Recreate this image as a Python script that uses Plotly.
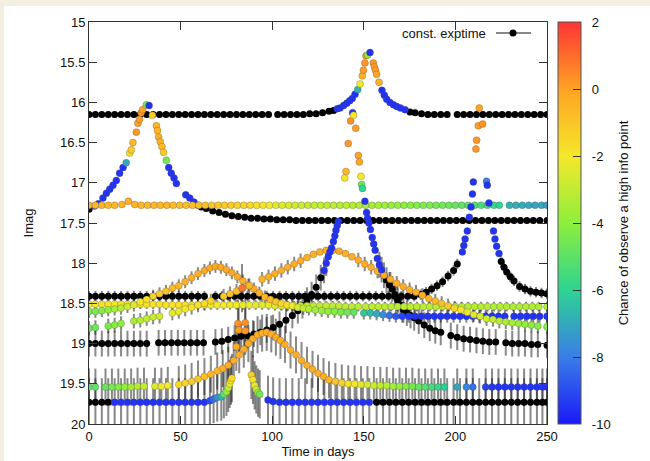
import plotly.graph_objects as go

FONT = "Liberation Sans, Arial, Helvetica, sans-serif"

# ---------------- data ----------------
x_ticks = [0, 50, 100, 150, 200, 250]
x_labels = ["0", "50", "100", "150", "200", "250"]
y_ticks = [15, 15.5, 16, 16.5, 17, 17.5, 18, 18.5, 19, 19.5, 20]
y_labels = ["15", "15.5", "16", "16.5", "17", "17.5", "18", "18.5", "19", "19.5", "20"]
cb_ticks = [-10, -8, -6, -4, -2, 0, 2]
cb_labels = ["-10", "-8", "-6", "-4", "-2", "0", "2"]

# curve A: baseline 16.15, peak near day 152
a_bt = [0, 3.5, 7, 10.5, 14, 17.5, 21, 24.5, 28, 31.5, 35, 38.5, 42, 45.5, 49, 52.5, 56, 59.5, 63, 66.5,
        70, 73.5, 77, 80.5, 84, 87.5, 91, 94.5, 98, 103, 106.5, 110, 113.5, 117, 120.5, 124, 127.5, 131, 133.5,
        175.2, 178, 181.5, 185, 188.5, 192, 195.5, 201, 204.5, 208, 211.5, 215, 218.5, 222, 225.5, 229, 232.5,
        236, 239.5, 243, 246.5, 250]
a_bm = [16.15, 16.15, 16.15, 16.15, 16.15, 16.15, 16.15, 16.15, 16.15, 16.15, 16.15, 16.15, 16.15, 16.15,
        16.15, 16.15, 16.15, 16.15, 16.15, 16.15, 16.15, 16.15, 16.15, 16.15, 16.15, 16.15, 16.15, 16.15, 16.15,
        16.15, 16.15, 16.15, 16.15, 16.15, 16.14, 16.14, 16.13, 16.11, 16.10,
        16.12, 16.13, 16.14, 16.15, 16.15, 16.15, 16.15, 16.15, 16.15, 16.15, 16.15, 16.15, 16.15, 16.15, 16.15,
        16.15, 16.15, 16.15, 16.15, 16.15, 16.15, 16.15]
a_ct = [135.5, 137, 139, 140.7, 142.3, 143.7, 145.2, 146.7, 148, 149.2, 149.8, 150.6, 151.2, 152.1, 153.4,
        155.2, 155.8, 156.4, 157, 158.3, 159.9, 161.2, 162.5, 164.3, 166.2, 168, 170, 172.5]
a_cm = [16.08, 16.07, 16.04, 16.01, 15.98, 15.95, 15.9, 15.84, 15.77, 15.67, 15.6, 15.51, 15.42, 15.41, 15.38,
        15.51, 15.56, 15.6, 15.65, 15.75, 15.85, 15.91, 15.96, 16.0, 16.03, 16.05, 16.07, 16.09]
a_cc = [-9.5, -9.5, -9.5, -9.5, -9.5, -9.5, -9.5, -6.8, -2.0, -0.4, 0.1, 0.2, 0.3, -4.0, -9.5,
        0.2, 0.1, 0.1, -0.1, -0.4, -9.5, -9.5, -9.5, -9.5, -9.5, -9.5, -9.5, -9.5]

# curve B: baseline 17.47, peak near day 32
b_bt = [0, 61.3, 64, 67.5, 71, 74.5, 78, 81.5, 85, 88.5, 92, 95.5, 99, 102.5, 106, 109.5, 113, 116.5, 120, 123.5,
        127, 130.5, 134, 137.5, 141, 144.5, 148, 151.5, 155, 158.5, 162, 165.5, 169, 172.5, 176, 179.5, 183, 186.5,
        190, 193.5, 197, 200.5, 204, 207.5, 211, 214.5, 218, 221.5, 225, 228.5, 232, 235.5, 239, 242.5, 246, 250]
b_bm = [17.33, 17.30, 17.32, 17.35, 17.37, 17.39, 17.41, 17.42, 17.43, 17.44, 17.44, 17.45, 17.45, 17.46, 17.46,
        17.46, 17.47, 17.47, 17.47, 17.47, 17.47, 17.47, 17.47, 17.47, 17.47, 17.47, 17.47, 17.47, 17.47, 17.47,
        17.47, 17.47, 17.47, 17.47, 17.47, 17.47, 17.47, 17.47, 17.47, 17.47, 17.47, 17.47, 17.47, 17.47, 17.47,
        17.47, 17.47, 17.47, 17.47, 17.47, 17.47, 17.47, 17.47, 17.47, 17.47, 17.47]
b_ct = [3, 5.1, 7.6, 9.5, 11.3, 13.1, 14.9, 16.7, 18.6, 20.3, 22.2, 23.1, 24, 25.8, 26.7, 27.6, 28.5, 29.3,
        31.3, 32.8, 34.6, 36.8, 37.4, 38, 38.9, 39.8, 40.7, 42.2, 43.5, 44.9, 46.4, 47.7, 52.8, 55, 57.3, 59.5]
b_cm = [17.29, 17.26, 17.19, 17.13, 17.08, 17.03, 16.97, 16.88, 16.81, 16.75, 16.63, 16.59, 16.5, 16.37, 16.26,
        16.21, 16.13, 16.09, 16.03, 16.04, 16.16, 16.29, 16.35, 16.43, 16.49, 16.55, 16.62, 16.72, 16.81, 16.88,
        16.94, 17.01, 17.15, 17.19, 17.24, 17.28]
b_cc = [-9.5, -9.5, -9.5, -9.5, -9.5, -9.5, -9.5, -9.5, -9.5, -7.0, -1.6, -1.2, -0.6, 0.2, 0.1, 0.1, 0.3, 0.0,
        -4.5, -9.5, -1.2, -0.5, -0.5, -0.3, -0.5, -0.7, -1.2, -4.5, -9.5, -9.5, -9.5, -9.5, -9.5, -9.5, -9.5, -9.5]

# curve C: flat 17.28 colored line
c_t = [0, 3.5, 7, 10.5, 14, 18, 21.5, 25, 28.5, 32, 35.5, 39, 42.5, 46, 49.5, 53, 56.5, 60, 63.5, 67, 70.5, 74,
       77.5, 81, 84.5, 88, 91.5, 95, 98.5, 102, 105.5, 109, 112.5, 116, 119.5, 123, 126.5, 130, 133.5, 137, 140.5,
       144, 147.5, 151, 154.5, 158, 161.5, 165, 168.5, 172, 175.5, 179, 182.5, 186, 189.5, 193, 196.5, 200, 203.5,
       207, 210.5, 214, 217.5, 221, 224, 229.5, 233, 236.5, 240, 243.5, 247, 250]
c_m = [17.28, 17.28, 17.28, 17.28, 17.28, 17.27, 17.23, 17.27, 17.28, 17.28, 17.28, 17.28, 17.28, 17.28, 17.28,
       17.28, 17.28, 17.28, 17.28, 17.28, 17.28, 17.28, 17.28, 17.28, 17.28, 17.28, 17.28, 17.28, 17.28, 17.28,
       17.28, 17.28, 17.28, 17.28, 17.28, 17.28, 17.28, 17.28, 17.28, 17.28, 17.28, 17.28, 17.28, 17.28, 17.28,
       17.28, 17.28, 17.28, 17.28, 17.28, 17.28, 17.28, 17.28, 17.28, 17.28, 17.28, 17.28, 17.28, 17.28, 17.28,
       17.28, 17.28, 17.28, 17.28, 17.28, 17.28, 17.28, 17.28, 17.28, 17.28, 17.28, 17.28]
c_c = [-0.6, -0.6, -0.6, -0.6, -0.6, -0.5, -0.3, -0.5, -0.6, -0.6, -0.6, -0.6, -0.6, -0.7, -0.7, -0.8, -0.8,
       -0.9, -0.9, -1.0, -1.0, -1.1, -1.2, -1.3, -1.4, -1.5, -1.7, -1.9, -2.1, -2.3, -2.5, -2.6, -2.7, -2.8, -2.9,
       -3.0, -3.0, -3.1, -3.1, -3.2, -3.2, -3.3, -3.3, -3.4, -3.5, -3.6, -3.7, -3.8, -3.9, -4.0, -4.1, -4.2, -4.3,
       -4.4, -4.5, -4.6, -4.7, -4.8, -5.0, -5.1, -5.3, -5.4, -5.6, -5.8, -6.0, -6.8, -6.9, -7.0, -7.0, -7.1, -7.1,
       -7.2]

# curve D: baseline 18.41, peak near day 213
d_bt = [0, 3.5, 7, 10.5, 14, 17.5, 21, 24.5, 28, 31.5, 35, 38.5, 42, 45.5, 49, 52.5, 56, 59.5, 63, 69, 72.5, 76,
        79.5, 83, 86.5, 90, 93.5, 97, 100.5, 104, 107.5, 111, 114.5, 118, 121.5, 125, 128.5, 132, 135.5, 139,
        142.5, 146, 149.5, 153, 156.5, 160, 163.5, 167, 170.5, 174, 177.5, 181, 184, 187, 190, 193, 196, 199, 201,
        225, 226.5, 228, 230, 232, 235, 238, 241, 244, 247, 250]
d_bm = [18.41, 18.41, 18.41, 18.41, 18.41, 18.41, 18.41, 18.41, 18.41, 18.41, 18.41, 18.41, 18.41, 18.41, 18.41,
        18.41, 18.41, 18.41, 18.41, 18.41, 18.41, 18.41, 18.41, 18.41, 18.41, 18.41, 18.41, 18.41, 18.41, 18.41,
        18.41, 18.41, 18.41, 18.41, 18.41, 18.41, 18.41, 18.41, 18.41, 18.41, 18.41, 18.41, 18.41, 18.41, 18.41,
        18.41, 18.41, 18.41, 18.41, 18.41, 18.41, 18.39, 18.36, 18.32, 18.28, 18.23, 18.16, 18.09, 18.01,
        17.98, 18.05, 18.11, 18.17, 18.22, 18.29, 18.32, 18.35, 18.36, 18.37, 18.38]
d_ct = [203.8, 204.6, 205.3, 206.5, 207.6, 208.5, 209.3, 209.8, 211.2, 211.6, 212.5, 213, 214.9, 217, 217.4,
        218.3, 220.8, 221.6, 222.5, 223.8]
d_cm = [17.86, 17.78, 17.7, 17.6, 17.43, 17.3, 17.14, 16.99, 16.58, 16.47, 16.29, 16.07, 16.27, 16.98, 17.03,
        17.25, 17.6, 17.7, 17.79, 17.88]
d_cc = [-9.5, -9.5, -9.5, -9.5, -9.5, -9.5, -9.5, -9.5, 0.2, 0.2, 0.1, 0.0, 0.2, -8.0, -9.5, -9.5, -9.5, -9.5,
        -9.5, -9.5]

# curve E: flat yellow line near 18.52
e_t = [0, 3.5, 7, 10.5, 14, 17.5, 21, 24.5, 28, 31.5, 35, 38.5, 42, 45.5, 49, 52.5, 56, 59.5, 63, 66.5, 70, 73.5,
       77, 80.5, 84, 87.5, 91, 94.5, 98, 101.5, 105, 108.5, 112, 115.5, 119, 122.5, 126, 129.5, 133, 136.5, 140,
       143.5, 147, 151, 154.5, 158, 161.5, 165, 168.5, 172, 175.5, 179, 182.5, 186, 189.5, 193, 196.5, 200,
       203.5, 207, 210.5, 214, 217.5, 221, 224.5, 228, 231.5, 235, 238.5, 242, 245.5, 250]
e_m = [18.51, 18.51, 18.51, 18.51, 18.51, 18.51, 18.51, 18.51, 18.51, 18.51, 18.51, 18.51,
       18.52, 18.52, 18.52, 18.52, 18.52, 18.52, 18.52, 18.52, 18.52, 18.52, 18.52, 18.52, 18.52, 18.52, 18.52,
       18.52, 18.52, 18.53, 18.53, 18.53, 18.53, 18.53, 18.53, 18.53, 18.53, 18.53, 18.53, 18.53,
       18.54, 18.54, 18.54, 18.54, 18.54, 18.54, 18.54, 18.54, 18.54, 18.54, 18.54, 18.54, 18.54, 18.54, 18.54,
       18.54, 18.54, 18.54, 18.54, 18.54, 18.54, 18.54, 18.54, 18.54, 18.54, 18.54, 18.54, 18.54, 18.54, 18.54,
       18.54, 18.54]
e_c = [-2.0, -2.0, -1.9, -1.9, -1.9, -1.8, -1.8, -1.8, -1.8, -1.8, -1.8, -1.8,
       -1.8, -1.8, -1.8, -1.8, -1.9, -1.9, -1.9, -2.0, -2.0, -2.0, -2.1, -2.1, -2.2, -2.2, -2.3, -2.3, -2.4,
       -2.5, -2.6, -2.7, -2.8, -2.9, -2.9, -3.0, -3.0, -3.0, -3.1, -3.1,
       -3.1, -3.1, -3.1, -3.1, -3.1, -3.1, -3.1, -3.1, -3.1, -3.1, -3.1, -3.1, -3.1, -3.2, -3.2, -3.2, -3.2,
       -3.2, -3.2, -3.2, -3.2, -3.2, -3.2, -3.3, -3.3, -3.3, -3.3, -3.3, -3.3, -3.3, -3.3, -3.3]

# curve F: arc peaking near day 68, then flat 18.66
f_t = [0, 3.5, 7, 10.5, 14, 17.5, 21, 24.5, 28, 31.5, 35, 38.5, 42, 45.5, 49, 52.5, 56, 59.5, 63, 66, 69, 72, 75,
       78, 81, 84, 87, 90, 93, 96, 99, 102, 105, 108, 111, 114, 117, 120, 123.5, 127, 130.5, 134, 137.5, 141,
       144.5, 150, 153.5, 157, 160.5, 164, 167.5, 171, 174.5, 178, 181.5, 185, 188.5, 192, 195.5, 199, 202.5,
       206, 209.5, 213, 216.5, 220, 223.5, 227, 232, 235.5, 239, 242.5, 246, 250]
f_m = [18.6, 18.6, 18.59, 18.58, 18.57, 18.56, 18.54, 18.52, 18.48, 18.45, 18.41, 18.38, 18.35, 18.31, 18.28,
       18.23, 18.18, 18.13, 18.09, 18.06, 18.04, 18.05, 18.08, 18.12, 18.17, 18.22, 18.27, 18.32, 18.37, 18.42,
       18.45, 18.48, 18.5, 18.52, 18.53, 18.55, 18.56, 18.57, 18.58, 18.59, 18.6, 18.6, 18.61, 18.61, 18.61,
       18.62, 18.62, 18.63, 18.64, 18.65, 18.66, 18.66, 18.66, 18.66, 18.66, 18.66, 18.66, 18.66, 18.66, 18.66,
       18.66, 18.66, 18.66, 18.66, 18.66, 18.66, 18.66, 18.66, 18.66, 18.66, 18.66, 18.66, 18.66, 18.66]
f_c = [-4.5, -4.4, -4.2, -3.9, -3.6, -3.2, -2.8, -2.4, -2.0, -1.7, -1.4, -1.1, -0.9, -0.7, -0.5, -0.4, -0.3,
       -0.3, -0.2, -0.2, -0.2, -0.2, -0.2, -0.2, -0.3, -0.3, -0.3, -0.3, -0.4, -0.5, -0.7, -1.0, -1.4, -1.8,
       -2.2, -2.6, -3.0, -3.3, -3.6, -3.8, -4.0, -4.2, -4.4, -4.6, -4.9,
       -6.2, -6.6, -7.0, -7.6, -8.3, -8.8, -9.2, -9.4, -9.5, -9.5, -9.5, -9.5, -9.5, -9.5, -9.5, -9.5, -9.5,
       -9.5, -9.5, -9.5, -9.5, -9.5, -9.5, -9.5, -9.5, -9.5, -9.5, -9.5, -9.5]

# curve G: broad arc peaking near day 131
g_t = [0, 3.5, 10.5, 14, 17.5, 24.5, 28, 31.5, 35, 38.5, 45.5, 49, 52.5, 56, 59.5, 63, 66.5, 73.5, 77, 80.5, 84,
       87.5, 94.5, 98, 101.5, 105, 108.5, 112, 115.5, 119, 122.5, 126, 129.5, 133, 136.5, 140, 143.5, 147, 150.5,
       154, 157.5, 161, 164.5, 168, 171.5, 175, 178.5, 182, 185.5, 189, 192.5, 196, 199.5, 203, 206.5, 210,
       213.5, 217, 220.5, 224, 227.5, 231, 234.5, 238, 241.5, 245, 250]
g_m = [18.81, 18.8, 18.78, 18.77, 18.75, 18.72, 18.71, 18.69, 18.67, 18.66, 18.62, 18.6, 18.57, 18.55, 18.52,
       18.5, 18.47, 18.41, 18.38, 18.35, 18.31, 18.28, 18.2, 18.17, 18.13, 18.09, 18.05, 18.01, 17.97, 17.93,
       17.89, 17.86, 17.84, 17.84, 17.85, 17.88, 17.92, 17.96, 18.01, 18.05, 18.1, 18.15, 18.2, 18.25, 18.29,
       18.33, 18.36, 18.4, 18.44, 18.47, 18.5, 18.53, 18.56, 18.58, 18.61, 18.64, 18.66, 18.69, 18.7, 18.72,
       18.73, 18.74, 18.75, 18.76, 18.77, 18.78, 18.79]
g_c = [-4.8, -4.7, -4.4, -4.2, -4.0, -3.5, -3.3, -3.1, -2.9, -2.7, -2.4, -2.2, -2.0, -1.9, -1.8, -1.6, -1.4,
       -1.1, -0.9, -0.8, -0.7, -0.6, -0.5, -0.4, -0.3, -0.3, -0.3, -0.3, -0.3, -0.3, -0.3, -0.3, -0.3, -0.3,
       -0.3, -0.3, -0.3, -0.3, -0.3, -0.3, -0.3, -0.3, -0.3, -0.3, -0.3, -0.3, -0.3, -0.4, -0.5, -0.6, -0.8,
       -1.1, -1.5, -1.9, -2.2, -2.4, -2.6, -2.8, -3.0, -3.2, -3.4, -3.6, -3.8, -3.9, -4.0, -4.1, -4.2]

# curve H: baseline 19.0, peak near day 145
h_bt = [0, 3.5, 7, 10.5, 14, 17.5, 21, 24.5, 28, 31.5, 38, 41.5, 45, 48.5, 52, 55.5, 59, 62.5, 69, 72.5, 76, 79.5,
        83, 86.5, 90, 93.5, 97, 100.5, 104, 107.5, 111, 114, 116.5, 119, 121.5, 124, 126.5, 161, 162.4, 164,
        165.5, 167, 168.5, 170, 171.6, 173.5, 175.5, 177.5, 180, 183, 186, 189, 192, 197.5, 201, 204.5, 208,
        211.5, 215, 218.5, 222, 227.5, 231, 234.5, 238, 241.5, 245, 250]
h_bm = [19.0, 19.0, 19.0, 19.0, 19.0, 19.0, 19.0, 19.0, 19.0, 19.0, 18.99, 18.99, 18.99, 18.99, 18.99, 18.99,
        18.99, 18.99, 18.98, 18.97, 18.95, 18.93, 18.91, 18.9, 18.88, 18.86, 18.83, 18.8, 18.76, 18.71, 18.65,
        18.59, 18.53, 18.46, 18.39, 18.3, 18.18, 18.15, 18.21, 18.27, 18.32, 18.39, 18.46, 18.52, 18.58, 18.62,
        18.65, 18.68, 18.72, 18.77, 18.81, 18.84, 18.86, 18.9, 18.92, 18.94, 18.95, 18.96, 18.97, 18.98, 18.98,
        18.99, 19.0, 19.0, 19.0, 19.01, 19.01, 19.02]
h_ct = [128.3, 129.5, 130.6, 131.5, 132.4, 133.4, 134.2, 134.8, 135.5, 136.1, 139.6, 140.3, 141.5, 142.8, 143.9,
        144.4, 145.6, 147, 147.6, 148.5, 148.8, 149.3, 150.6, 151.5, 152.1, 152.8, 153.6, 154.6, 155.4, 156.2,
        157.4, 158.5, 159.7]
h_cm = [18.09, 18.0, 17.92, 17.86, 17.81, 17.73, 17.66, 17.59, 17.53, 17.48, 16.94, 16.86, 16.51, 16.23, 16.13,
        16.16, 16.32, 16.66, 16.74, 16.92, 17.02, 17.07, 17.23, 17.37, 17.44, 17.5, 17.58, 17.68, 17.76, 17.84,
        17.94, 18.02, 18.08]
h_cc = [-9.5, -9.5, -9.5, -9.5, -9.5, -9.5, -9.5, -9.5, -9.5, -9.5, -1.9, -0.5, 0.2, 0.3, -9.5, -2.0, 0.1, 0.0,
        -0.1, -2.0, -4.8, -6.0, -9.5, -9.5, -9.5, -9.5, -9.5, -9.5, -9.5, -9.5, -9.5, -9.5, -9.5]

# curve I: baseline 19.54, peak near day 97
i_t = [0, 3.5, 9, 12.5, 16, 19.5, 23, 26.5, 30, 36, 39.5, 43, 49, 52.5, 56, 59.5, 63, 66.5, 70, 73, 76, 79, 82,
       84.5, 87, 89.5, 92, 94.5, 97, 99.5, 102, 104.5, 107, 110, 113, 116, 119, 122, 125, 128, 131, 134.5, 138,
       141.5, 145, 148.5, 152, 155.5, 159, 162.5, 166, 169.5, 173, 176.5, 180, 183.5, 187, 190.5, 194, 201, 206,
       209.5, 216.5, 220, 223.5, 227, 230.5, 234, 237.5, 241, 244.5, 247.5, 250]
i_m = [19.54, 19.54, 19.54, 19.54, 19.54, 19.54, 19.54, 19.53, 19.53, 19.53, 19.53, 19.52, 19.51, 19.49, 19.47,
       19.44, 19.41, 19.38, 19.34, 19.31, 19.27, 19.21, 19.14, 19.07, 19.0, 18.94, 18.89, 18.87, 18.86, 18.88,
       18.92, 18.96, 19.01, 19.08, 19.14, 19.21, 19.27, 19.32, 19.37, 19.41, 19.45, 19.47, 19.49, 19.5, 19.5,
       19.51, 19.51, 19.52, 19.52, 19.52, 19.53, 19.53, 19.53, 19.53, 19.54, 19.54, 19.54, 19.54, 19.54, 19.54,
       19.54, 19.54, 19.54, 19.54, 19.54, 19.54, 19.54, 19.54, 19.54, 19.54, 19.54, 19.54, 19.54]
i_c = [-5.0, -5.0, -4.8, -4.5, -4.2, -3.9, -3.5, -3.2, -2.9, -2.5, -2.2, -2.0, -1.6, -1.4, -1.2, -1.0, -0.8,
       -0.6, -0.5, -0.3, -0.3, -0.3, -0.3, -0.3, -0.3, -0.3, -0.3, -0.3, -0.3, -0.3, -0.3, -0.3, -0.3, -0.3,
       -0.3, -0.3, -0.3, -0.3, -0.3, -0.3, -0.6, -1.0, -1.4, -1.8, -2.1, -2.3, -2.6, -2.8, -3.1, -3.3, -3.6,
       -3.9, -4.2, -4.5, -4.8, -5.2, -5.5, -5.8, -6.2, -7.0, -7.8, -8.3, -9.2, -9.4, -9.5, -9.5, -9.5, -9.5,
       -9.5, -9.5, -9.5, -9.5, -9.5]

# curve J: baseline 19.73, peak near day 84
j_bt = [0, 3.5, 7, 10.5, 157, 160.5, 164, 167.5, 171, 174.5, 178, 181.5, 185, 188.5, 192, 195.5, 199, 202.5, 206,
        209.5, 213, 216.5, 220, 223.5, 227, 230.5, 234, 237.5, 241, 244.5, 247.5, 250]
j_bm = [19.73, 19.73, 19.73, 19.73, 19.73, 19.73, 19.73, 19.73, 19.73, 19.73, 19.73, 19.73, 19.73, 19.73, 19.73,
        19.73, 19.73, 19.73, 19.73, 19.73, 19.73, 19.73, 19.73, 19.73, 19.73, 19.73, 19.73, 19.73, 19.73, 19.73,
        19.73, 19.73]
j_ct = [14, 17.5, 21, 24.5, 28, 31.5, 35, 38.5, 42, 45.5, 49, 52.5, 56, 59.5, 63, 66, 68, 70, 72.2, 73.6, 75, 76,
        76.8, 77.5, 78, 80.4, 81.3, 81.7, 83.5, 85.3, 85.3, 88.6, 89.5, 90.4, 91.3, 92.3, 93.2, 97.7, 100.5, 104,
        107.5, 111, 114.5, 118, 121.5, 125, 128.5, 132, 135.5, 139, 142.5, 146, 149.5, 153]
j_cm = [19.73, 19.73, 19.73, 19.73, 19.73, 19.73, 19.73, 19.73, 19.73, 19.73, 19.73, 19.73, 19.73, 19.73, 19.73,
        19.71, 19.69, 19.67, 19.66, 19.63, 19.6, 19.55, 19.5, 19.46, 19.43, 19.04, 18.75, 18.83, 18.31, 18.74,
        18.84, 19.39, 19.45, 19.52, 19.57, 19.61, 19.63, 19.7, 19.72, 19.73, 19.73, 19.73, 19.73, 19.73, 19.73,
        19.73, 19.73, 19.73, 19.73, 19.73, 19.73, 19.73, 19.73, 19.73]
j_cc = [-9.5, -9.5, -9.5, -9.5, -9.5, -9.5, -9.5, -9.5, -9.5, -9.5, -9.5, -9.5, -9.5, -9.5, -9.5, -9.0, -8.4,
        -7.6, -6.8, -5.0, -4.0, -3.0, -2.3, -1.9, -1.5, -0.2, 0.3, 0.1, 0.8, 0.3, 0.2, -1.3, -1.8, -2.2, -2.9,
        -3.8, -4.6, -9.5, -9.5, -9.5, -9.5, -9.5, -9.5, -9.5, -9.5, -9.5, -9.5, -9.5, -9.5, -9.5, -9.5, -9.5,
        -9.5, -9.5]

# per-curve photometric error (mag)
err_sizes = [0, 0, 0, 0.065, 0.06, 0.08, 0.09, 0.16, 0.23, 0.30]
# error bars only become visible for points fainter than this magnitude
err_visible_from = 17.95

curves = [
    (a_bt, a_bm, a_ct, a_cm, a_cc),
    (b_bt, b_bm, b_ct, b_cm, b_cc),
    ([], [], c_t, c_m, c_c),
    (d_bt, d_bm, d_ct, d_cm, d_cc),
    ([], [], e_t, e_m, e_c),
    ([], [], f_t, f_m, f_c),
    ([], [], g_t, g_m, g_c),
    (h_bt, h_bm, h_ct, h_cm, h_cc),
    ([], [], i_t, i_m, i_c),
    (j_bt, j_bm, j_ct, j_cm, j_cc),
]
for k, (bt, bm, ct, cm, cc) in enumerate(curves):
    assert len(bt) == len(bm), (k, "black", len(bt), len(bm))
    assert len(ct) == len(cm) == len(cc), (k, "color", len(ct), len(cm), len(cc))

# ---------------- figure ----------------
cscale = [[0.0, "#1a1af8"], [1 / 6, "#3a7ee8"], [2 / 6, "#2ed492"], [3 / 6, "#8def3c"],
          [4 / 6, "#f5e82a"], [5 / 6, "#ffa224"], [1.0, "#ff3434"]]

fig = go.Figure()

# error bars first (underneath every point)
for (bt, bm, ct, cm, cc), err in zip(curves, err_sizes):
    if err:
        pts = [(t, m) for t, m in zip(bt + ct, bm + cm) if m >= err_visible_from]
        fig.add_trace(go.Scatter(
            x=[p[0] for p in pts], y=[p[1] for p in pts], mode="markers",
            marker=dict(size=2, color="rgba(0,0,0,0)"),
            error_y=dict(type="constant", value=err, color="rgba(20,20,20,0.5)", thickness=2, width=0),
            hoverinfo="skip", showlegend=False))

# constant exposure time points (black)
for bt, bm, ct, cm, cc in curves:
    if bt:
        fig.add_trace(go.Scatter(
            x=bt, y=bm, mode="markers",
            marker=dict(size=7, color="black", line=dict(width=0)),
            showlegend=False))

# adaptive points coloured by chance
for bt, bm, ct, cm, cc in curves:
    fig.add_trace(go.Scatter(
        x=ct, y=cm, mode="markers",
        marker=dict(size=7, color=cc, coloraxis="coloraxis",
                    line=dict(width=0.5, color="rgba(70,70,70,0.55)")),
        showlegend=False))

L, R, T, B = 89, 103, 22, 37
W, H = 650, 461
pw, ph = W - L - R, H - T - B

def px_x(p):
    return (p - L) / pw

def px_y(p):
    return (H - B - p) / ph

axis_common = dict(ticks="inside", ticklen=8, tickcolor="#333", tickwidth=1, showline=True, linecolor="#333",
                   linewidth=1, mirror="ticks", showgrid=False, zeroline=False,
                   tickfont=dict(family=FONT, size=13, color="#111"))

fig.update_layout(
    width=W, height=H,
    margin=dict(l=L, r=R, t=T, b=B, autoexpand=False),
    paper_bgcolor="#f4efe0", plot_bgcolor="white",
    font=dict(family=FONT, size=13, color="#111"),
    xaxis=dict(range=[0, 250], tickvals=x_ticks, ticktext=x_labels,
               title=dict(text="Time in days", standoff=4, font=dict(size=13)), **axis_common),
    yaxis=dict(range=[20, 15], tickvals=y_ticks, ticktext=y_labels,
               title=dict(text="Imag", standoff=23, font=dict(size=13)), **axis_common),
    coloraxis=dict(
        cmin=-10, cmax=2, colorscale=cscale,
        colorbar=dict(x=px_x(558), xanchor="left", y=0.5, yanchor="middle", len=1, lenmode="fraction",
                      thickness=23, thicknessmode="pixels", xpad=0, ypad=0,
                      outlinewidth=1, outlinecolor="#555",
                      ticks="inside", ticklen=8, tickcolor="#333",
                      tickvals=cb_ticks,
                      ticktext=["\u00a0\u00a0" + s + "\u00a0\u00a0\u00a0" for s in cb_labels],
                      tickfont=dict(family=FONT, size=13, color="#111"),
                      title=dict(text="Chance of observe a high info point", side="right",
                                 font=dict(family=FONT, size=13, color="#111")))),
)

# white page panel over the cream surround
fig.add_shape(type="rect", xref="paper", yref="paper", layer="below",
              x0=px_x(4), x1=px_x(652), y0=px_y(463), y1=px_y(6),
              fillcolor="white", line=dict(width=0))

# legend key (text then sample, gnuplot style)
ly = px_y(33)
fig.add_annotation(x=px_x(488), y=ly, xref="paper", yref="paper", text="const. exptime", showarrow=False,
                   xanchor="right", yanchor="middle", font=dict(family=FONT, size=13, color="#111"))
fig.add_shape(type="line", xref="paper", yref="paper", x0=px_x(496), x1=px_x(531), y0=ly, y1=ly,
              line=dict(color="#111", width=1))
fig.add_shape(type="circle", xref="paper", yref="paper", xsizemode="pixel", ysizemode="pixel",
              xanchor=px_x(513), yanchor=ly, x0=-3.5, x1=3.5, y0=-3.5, y1=3.5,
              fillcolor="black", line=dict(width=0))

fig.write_html("out.html")
